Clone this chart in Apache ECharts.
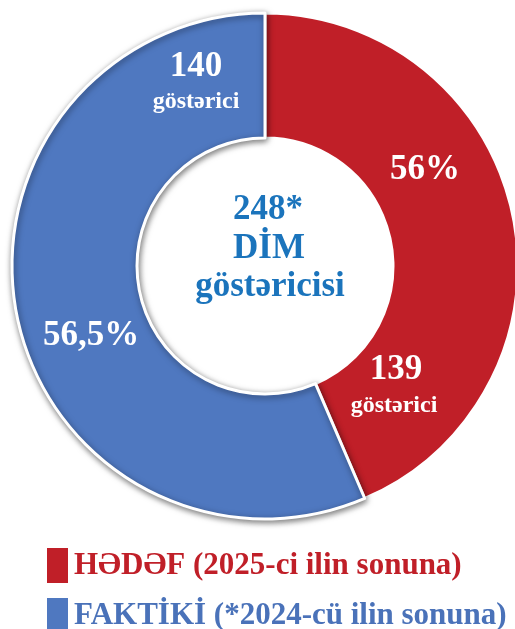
<!DOCTYPE html>
<html>
<head>
<meta charset="utf-8">
<script src="https://cdn.jsdelivr.net/npm/echarts@6/dist/echarts.min.js"></script>
<style>
  html, body { margin: 0; padding: 0; background: #fff; }
  #main { width: 515px; height: 629px; }
</style>
</head>
<body>
<div id="main"></div>
<script>
// slices: red = target remainder, blue = actual
var sliceNames = ['HƏDƏF (2025-ci ilin sonuna)', 'FAKTİKİ (*2024-cü ilin sonuna)'];
var sliceValues = [108, 140];
var sliceColors = ['#C01F28', '#4F78C0'];
var legendColors = ['#C01F28', '#4A72B9'];
var countLabels = ['139', '140'];
var percentLabels = ['56%', '56,5%'];
var unitLabel = 'göstərici';
var centerLines = ['248*', 'DİM', 'göstəricisi'];

var FONT = '"Liberation Serif", "DejaVu Serif", serif';

var myChart = echarts.init(document.getElementById('main'));

function txt(s, x, y, size, color) {
    return {
        type: 'text', x: x, y: y, z: 100, silent: true,
        style: {
            text: s, fill: color, align: 'center', verticalAlign: 'middle',
            font: 'bold ' + size + 'px ' + FONT
        }
    };
}

var graphics = [
    txt(percentLabels[0], 425, 170, 35, '#fff'),
    txt(countLabels[0], 396, 370, 35, '#fff'),
    txt(unitLabel, 394, 406, 24, '#fff'),
    txt(countLabels[1], 196, 67, 35, '#fff'),
    txt(unitLabel, 196, 102, 24, '#fff'),
    txt(percentLabels[1], 91, 336, 35, '#fff'),
    txt(centerLines[0], 268, 210, 35, '#1B74BC'),
    txt(centerLines[1], 269, 249, 35, '#1B74BC'),
    txt(centerLines[2], 270, 287, 35, '#1B74BC')
];

function legendFor(i, top) {
    return {
        orient: 'vertical',
        left: 40,
        top: top,
        padding: 5,
        icon: 'rect',
        itemWidth: 23,
        itemHeight: 37,
        itemGap: 8,
        selectedMode: false,
        textStyle: { fontFamily: FONT, fontWeight: 'bold', fontSize: 31, color: legendColors[i] },
        data: [sliceNames[i]]
    };
}

myChart.setOption({
    animation: false,
    legend: [legendFor(0, 541), legendFor(1, 591)],
    graphic: graphics,
    series: [
        {
            type: 'pie',
            center: [265, 266],
            radius: [128, 253],
            startAngle: 90,
            clockwise: true,
            silent: true,
            label: { show: false },
            labelLine: { show: false },
            data: sliceValues.map(function (v, i) {
                var st = { color: sliceColors[i], borderColor: '#fff', borderWidth: 3 };
                if (i === 1) {
                    st.shadowColor = 'rgba(0,0,0,0.5)';
                    st.shadowBlur = 6;
                    st.shadowOffsetX = 1;
                    st.shadowOffsetY = 2;
                }
                return { name: sliceNames[i], value: v, itemStyle: st };
            })
        }
    ]
});
</script>
</body>
</html>
